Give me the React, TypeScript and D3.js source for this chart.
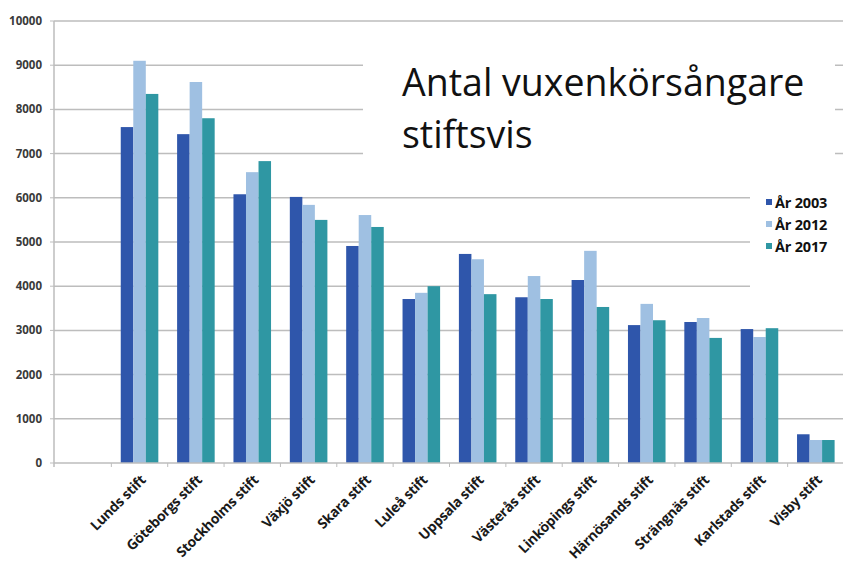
import React, { useEffect, useRef } from 'react';
import * as d3 from 'd3';

// stifts (first slot is left empty in the original chart)
const categories = ['', 'Lunds stift', 'Göteborgs stift', 'Stockholms stift', 'Växjö stift', 'Skara stift', 'Luleå stift', 'Uppsala stift', 'Västerås stift', 'Linköpings stift', 'Härnösands stift', 'Strängnäs stift', 'Karlstads stift', 'Visby stift'];
const seriesNames = ['År 2003', 'År 2012', 'År 2017'];
const values2003 = [null, 7600, 7440, 6080, 6020, 4910, 3710, 4730, 3750, 4140, 3120, 3190, 3030, 650];
const values2012 = [null, 9100, 8620, 6580, 5840, 5610, 3850, 4610, 4230, 4800, 3600, 3280, 2850, 520];
const values2017 = [null, 8350, 7800, 6830, 5500, 5340, 4000, 3820, 3710, 3530, 3230, 2830, 3050, 520];
const yTicks = [0, 1000, 2000, 3000, 4000, 5000, 6000, 7000, 8000, 9000, 10000];
const colors = ['#2f56ab', '#9fc0e2', '#2f97a3'];

const App = () => {
  const ref = useRef<SVGSVGElement>(null);

  useEffect(() => {
    const svg = d3.select(ref.current);
    svg.selectAll('*').remove();
    const width = 843;
    const height = 562;
    const left = 54, right = 843, top = 21, bottom = 463;

    const x = d3.scaleBand().domain(categories).range([left + 1, right + 1]);
    const inner = d3.scaleBand().domain(seriesNames).range([0, x.bandwidth()]).paddingOuter(0.75).paddingInner(0);
    const y = d3.scaleLinear().domain([0, 10000]).range([bottom, top]);

    svg.append('rect').attr('width', width).attr('height', height).attr('fill', 'white');

    // gridlines
    svg.append('g')
      .selectAll('line')
      .data(yTicks.filter(d => d > 0))
      .join('line')
      .attr('x1', left)
      .attr('x2', right)
      .attr('y1', d => y(d))
      .attr('y2', d => y(d))
      .attr('stroke', '#bdbdbd')
      .attr('stroke-width', 1.5);

    // y labels
    svg.append('g')
      .selectAll('text')
      .data(yTicks)
      .join('text')
      .attr('x', 42)
      .attr('y', d => y(d) + 4)
      .attr('text-anchor', 'end')
      .attr('font-family', 'Open Sans, sans-serif')
      .attr('font-weight', 'bold')
      .attr('font-size', 11.5)
      .attr('fill', '#3a3a3a')
      .text(d => d);

    // title box + legend box cover the gridlines
    svg.append('rect').attr('x', 363).attr('y', 59).attr('width', 472).attr('height', 118).attr('fill', 'white');
    svg.append('rect').attr('x', 750).attr('y', 177).attr('width', 93).attr('height', 115).attr('fill', 'white');

    // bars
    const series = [values2003, values2012, values2017];
    series.forEach((vals, si) => {
      svg.append('g')
        .selectAll('rect')
        .data(categories.map((c, i) => ({ c, v: vals[i] })).filter(d => d.v !== null))
        .join('rect')
        .attr('x', d => (x(d.c) as number) + (inner(seriesNames[si]) as number))
        .attr('width', inner.bandwidth())
        .attr('y', d => y(d.v as number))
        .attr('height', d => bottom - y(d.v as number))
        .attr('fill', colors[si]);
    });

    // axes lines
    svg.append('line').attr('x1', left).attr('x2', left).attr('y1', top).attr('y2', bottom + 4).attr('stroke', '#bdbdbd').attr('stroke-width', 1.5);
    svg.append('line').attr('x1', left).attr('x2', right).attr('y1', bottom).attr('y2', bottom).attr('stroke', '#bdbdbd').attr('stroke-width', 1.5);
    svg.append('g')
      .selectAll('line')
      .data(categories.slice(1))
      .join('line')
      .attr('x1', d => x(d) as number)
      .attr('x2', d => x(d) as number)
      .attr('y1', bottom)
      .attr('y2', bottom + 4)
      .attr('stroke', '#bdbdbd');
    svg.append('g')
      .selectAll('line')
      .data(yTicks)
      .join('line')
      .attr('x1', left - 4)
      .attr('x2', left)
      .attr('y1', d => y(d))
      .attr('y2', d => y(d))
      .attr('stroke', '#bdbdbd');

    // x labels
    svg.append('g')
      .selectAll('text')
      .data(categories.slice(1))
      .join('text')
      .attr('transform', d => `translate(${(x(d) as number) + x.bandwidth() / 2 + 7},${bottom + 18}) rotate(-45)`)
      .attr('text-anchor', 'end')
      .attr('font-family', 'Open Sans, sans-serif')
      .attr('font-weight', 'bold')
      .attr('font-size', 14)
      .attr('letter-spacing', -0.3)
      .attr('fill', '#1a1a1a')
      .text(d => d);

    // title
    const title = svg.append('text')
      .attr('font-family', 'Open Sans, sans-serif')
      .attr('font-size', 37.5)
      .attr('fill', '#111');
    title.append('tspan').attr('x', 402).attr('y', 96).text('Antal vuxenkörsångare');
    title.append('tspan').attr('x', 402).attr('y', 148).text('stiftsvis');

    // legend
    const legend = svg.append('g').attr('transform', 'translate(766,199)');
    seriesNames.forEach((s, i) => {
      legend.append('rect').attr('x', 0).attr('y', i * 22).attr('width', 6).attr('height', 6).attr('fill', colors[i]);
      legend.append('text')
        .attr('x', 9)
        .attr('y', i * 22 + 9)
        .attr('font-family', 'Open Sans, sans-serif')
        .attr('font-weight', 'bold')
        .attr('font-size', 14.5)
        .attr('letter-spacing', -0.2)
        .attr('fill', '#111')
        .text(s);
    });
  }, []);

  return <svg ref={ref} width={843} height={562} style={{ display: 'block', position: 'absolute', left: 0, top: 0 }} />;
};

export default App;
